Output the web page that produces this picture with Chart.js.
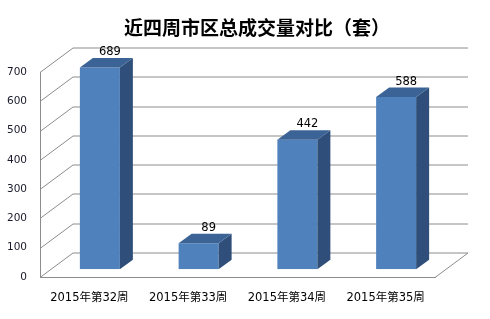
<!DOCTYPE html>
<html>
<head>
<meta charset="utf-8">
<script src="https://cdn.jsdelivr.net/npm/chart.js@4/dist/chart.umd.min.js"></script>
<style>
  html, body { margin: 0; padding: 0; background: #ffffff; }
  #wrap { width: 490px; height: 319px; }
</style>
</head>
<body>
<div id="wrap"><canvas id="c" width="490" height="319"></canvas></div>
<script>
// ---- data ----
const titleText = '近四周市区总成交量对比（套）';
const categories = ['2015年第32周', '2015年第33周', '2015年第34周', '2015年第35周'];
const values = [689, 89, 442, 588];
const yTicks = [0, 100, 200, 300, 400, 500, 600, 700];

// ---- style constants ----
const WALL = { dx: 33, dy: -24.5 };   // depth of the back wall
const BAR  = { dx: 10.5, dy: -7.7 };  // bar plane offset from front plane
const DEPTH = { dx: 13, dy: -9.5 };   // bar depth
const GRID_COLOR = '#8c8c8c';
const FRONT = '#4f81bd', TOP = '#3c6396', SIDE = '#2f4f7a';

const framePlugin = {
  id: 'frame3d',
  beforeDatasetsDraw(chart) {
    const { ctx, chartArea: a, scales: { y } } = chart;
    ctx.save();
    ctx.strokeStyle = GRID_COLOR;
    ctx.lineWidth = 1;
    yTicks.forEach(v => {
      const py = Math.round(y.getPixelForValue(v)) + 0.5;
      ctx.beginPath();
      ctx.moveTo(a.left, py);
      ctx.lineTo(a.left + WALL.dx, py + WALL.dy);
      ctx.lineTo(a.right + WALL.dx, py + WALL.dy);
      ctx.stroke();
    });
    const pb = Math.round(y.getPixelForValue(0)) + 0.5;
    ctx.beginPath();
    ctx.moveTo(a.right, pb);
    ctx.lineTo(a.right + WALL.dx, pb + WALL.dy);
    ctx.stroke();
    ctx.restore();
  },
  beforeDatasetDraw(chart) {
    chart.ctx.save();
    chart.ctx.translate(BAR.dx, BAR.dy);
  },
  afterDatasetDraw(chart, args) {
    const ctx = chart.ctx;
    const meta = args.meta;
    meta.data.forEach(el => {
      const { x, y, base, width } = el.getProps(['x', 'y', 'base', 'width'], true);
      const l = x - width / 2, r = x + width / 2;
      ctx.fillStyle = SIDE;
      ctx.beginPath();
      ctx.moveTo(r, y);
      ctx.lineTo(r + DEPTH.dx, y + DEPTH.dy);
      ctx.lineTo(r + DEPTH.dx, base + DEPTH.dy);
      ctx.lineTo(r, base);
      ctx.closePath();
      ctx.fill();
      ctx.fillStyle = TOP;
      ctx.beginPath();
      ctx.moveTo(l, y);
      ctx.lineTo(r, y);
      ctx.lineTo(r + DEPTH.dx, y + DEPTH.dy);
      ctx.lineTo(l + DEPTH.dx, y + DEPTH.dy);
      ctx.closePath();
      ctx.fill();
    });
    ctx.restore();
  },
  afterDatasetsDraw(chart) {
    const ctx = chart.ctx;
    const meta = chart.getDatasetMeta(0);
    ctx.save();
    ctx.font = '11.5px "DejaVu Sans", sans-serif';
    ctx.fillStyle = '#000';
    ctx.textAlign = 'center';
    ctx.textBaseline = 'alphabetic';
    meta.data.forEach((el, i) => {
      const { x, y } = el.getProps(['x', 'y'], true);
      ctx.fillText(String(values[i]), x + BAR.dx + 10, y + BAR.dy + DEPTH.dy - 3);
    });
    ctx.restore();
  },
  afterDraw(chart) {
    const ctx = chart.ctx;
    const a = chart.chartArea;
    ctx.save();
    ctx.font = 'bold 19px "Noto Sans CJK SC", sans-serif';
    ctx.fillStyle = '#000';
    ctx.textAlign = 'center';
    ctx.textBaseline = 'middle';
    ctx.fillText(titleText, (a.left + a.right + WALL.dx) / 2 + 3, 28);
    ctx.restore();
  }
};

new Chart(document.getElementById('c'), {
  type: 'bar',
  data: {
    labels: categories,
    datasets: [{
      data: values,
      backgroundColor: FRONT,
      borderWidth: 0,
      categoryPercentage: 1,
      barPercentage: 0.405
    }]
  },
  options: {
    responsive: false,
    animation: false,
    devicePixelRatio: 1,
    layout: { padding: { left: 7, right: 55, top: 72, bottom: 0 } },
    plugins: {
      legend: { display: false },
      tooltip: { enabled: false },
      title: { display: false }
    },
    scales: {
      x: {
        grid: { display: false, drawTicks: false, tickLength: 0 },
        border: { display: true, color: GRID_COLOR, width: 1 },
        ticks: {
          color: '#000',
          padding: 14,
          maxRotation: 0,
          autoSkip: false,
          font: { family: '"DejaVu Sans", "Noto Sans CJK SC", sans-serif', size: 11.5 }
        },
        afterFit(s) { s.height = 42; }
      },
      y: {
        min: 0,
        max: 700,
        grid: { display: false, drawTicks: false, tickLength: 0 },
        border: { display: true, color: GRID_COLOR, width: 1 },
        ticks: {
          stepSize: 100,
          color: '#1a1a2a',
          padding: 13,
          font: { family: '"DejaVu Sans", sans-serif', size: 10.5 }
        },
        afterFit(s) { s.width = 33; }
      }
    }
  },
  plugins: [framePlugin]
});
</script>
</body>
</html>
